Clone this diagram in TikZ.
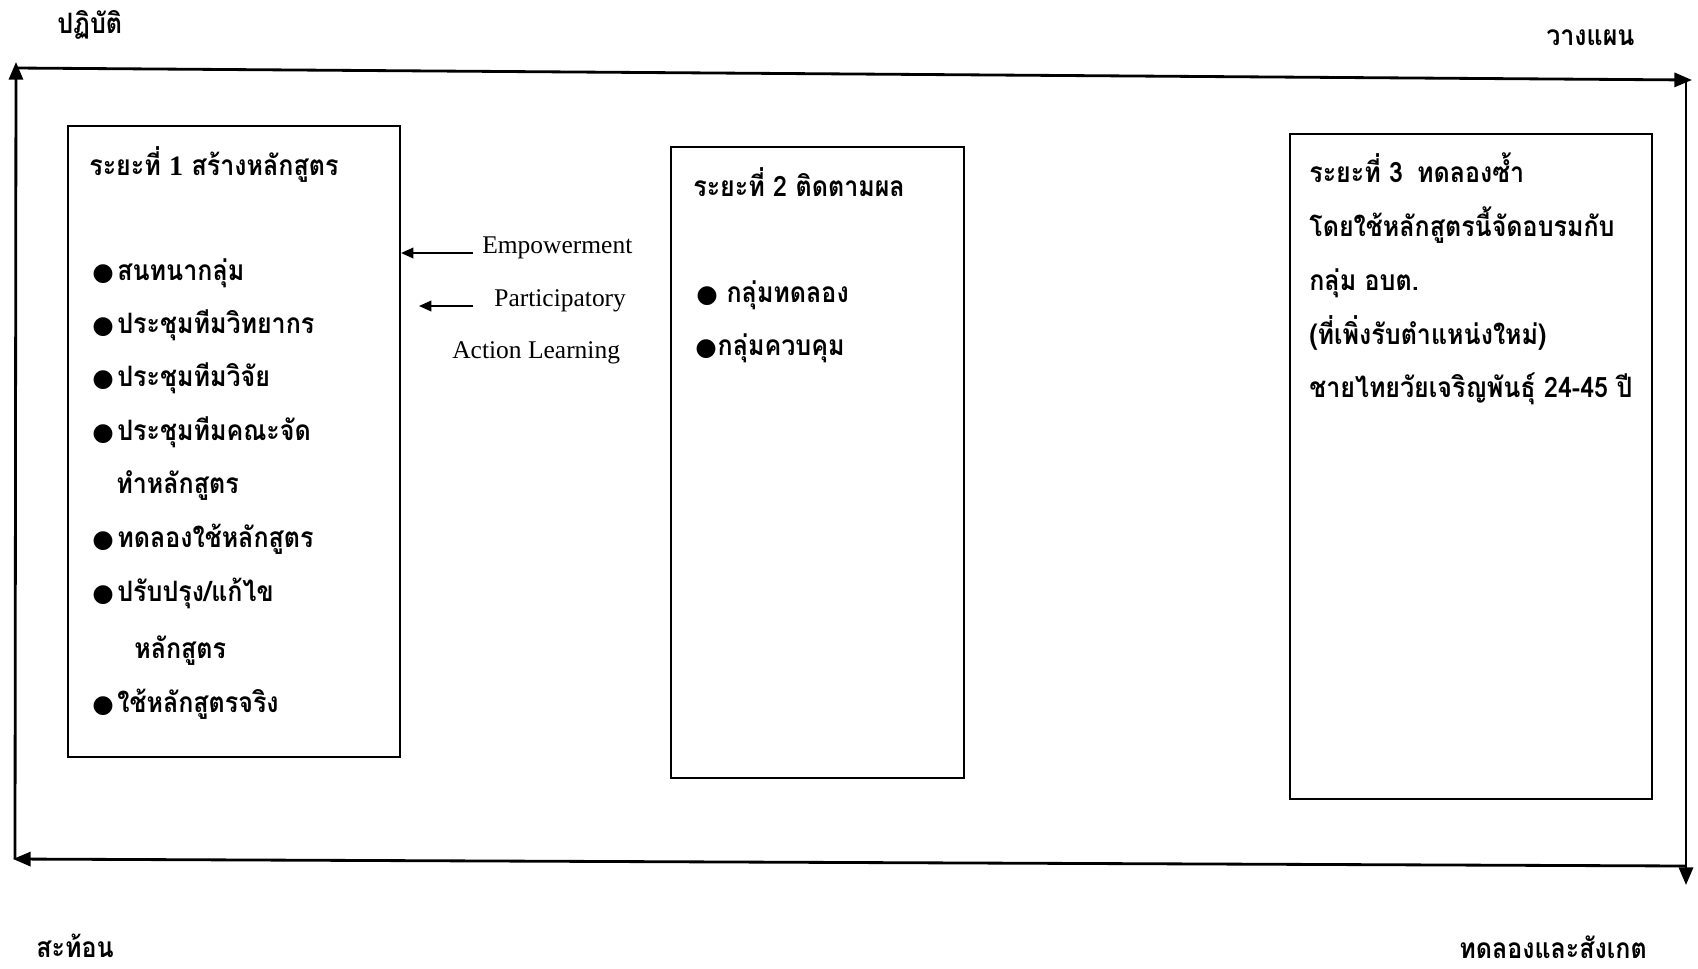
\documentclass[tikz,border=0pt]{standalone}
\usepackage{fontspec}
\setmainfont{Liberation Serif}
\newfontfamily\thai[Script=Thai, FakeStretch=0.89]{Loma}
\newfontfamily\dv{DejaVu Sans}
\usetikzlibrary{arrows.meta,fit}
\newcommand{\bul}{{\dv\fontsize{14}{14}\selectfont ●}}
\begin{document}
\begin{tikzpicture}[x=0.02cm,y=-0.02cm,
  lbl/.style={anchor=base west, inner sep=0pt, font=\thai\bfseries\fontsize{16}{19}\selectfont},
  eng/.style={anchor=base west, inner sep=0pt, font=\fontsize{14.5}{17}\selectfont},
  boxst/.style={draw, line width=1.2pt, inner sep=0pt},
  looparr/.style={line width=1.6pt, -{Triangle[length=10pt,width=8pt]}},
  thinarr/.style={line width=1.1pt, -{Triangle[length=7pt,width=6pt]}}]
\useasboundingbox (0,0) rectangle (1698,968);

% outer cycle corners
\coordinate (cBL) at (15,859);
\coordinate (cTLtip) at (16,62);
\coordinate (cTL) at (16,68);
\coordinate (cTRtip) at (1692,80);
\coordinate (cTR) at (1686,80);
\coordinate (cBRtip) at (1686,885);
\coordinate (cBR) at (1686,866);
\coordinate (cBLtip) at (13,859);

\draw[looparr] (cBL) -- (cTLtip);
\draw[looparr] (cTL) -- (cTRtip);
\draw[looparr] (cTR) -- (cBRtip);
\draw[looparr] (cBR) -- (cBLtip);

% corner labels
\node[lbl] (plan) at (1546,45) {วางแผน};
\node[lbl] (act) at (57,33) {ปฏิบัติ};
\node[lbl] (refl) at (36,957) {สะท้อน};
\node[lbl] (obs) at (1459,958) {ทดลองและสังเกต};

% boxes
\node[boxst, fit={(68,126) (400,757)}] (box1) {};
\node[boxst, fit={(671,147) (964,778)}] (box2) {};
\node[boxst, fit={(1290,134) (1652,799)}] (box3) {};

% box 1 text
\node[lbl] (t1) at (89,175) {ระยะที่ {\rmfamily 1} สร้างหลักสูตร};
\node[lbl] (a1) at (92,280) {\bul\hspace{2pt}สนทนากลุ่ม};
\node[lbl] (a2) at (92,333) {\bul\hspace{2pt}ประชุมทีมวิทยากร};
\node[lbl] (a3) at (92,386) {\bul\hspace{2pt}ประชุมทีมวิจัย};
\node[lbl] (a4) at (92,440) {\bul\hspace{2pt}ประชุมทีมคณะจัด};
\node[lbl] (a4b) at (116,493) {ทำหลักสูตร};
\node[lbl] (a5) at (92,547) {\bul\hspace{2pt}ทดลองใช้หลักสูตร};
\node[lbl] (a6) at (92,601) {\bul\hspace{2pt}ปรับปรุง/แก้ไข};
\node[lbl] (a6b) at (134,658) {หลักสูตร};
\node[lbl] (a7) at (92,712) {\bul\hspace{2pt}ใช้หลักสูตรจริง};

% middle labels
\node[eng] (emp) at (482,253) {Empowerment};
\node[eng] (par) at (494,306) {Participatory};
\node[eng] (acl) at (452,358) {Action Learning};
\coordinate (empS) at (473,253);
\coordinate (parS) at (473,306);
\coordinate (parE) at (419,306);
\draw[thinarr] (empS) -- (box1.east |- empS);
\draw[thinarr] (parS) -- (parE);

% box 2 text
\node[lbl] (t2) at (693,196) {ระยะที่ 2 ติดตามผล};
\node[lbl] (b1) at (696,302) {\bul\hspace{5pt}กลุ่มทดลอง};
\node[lbl] (b2) at (695,355) {\bul\hspace{0.5pt}กลุ่มควบคุม};

% box 3 text
\node[lbl] (t3) at (1309,182) {ระยะที่ 3\hspace{8pt}ทดลองซ้ำ};
\node[lbl] (c1) at (1309,236) {โดยใช้หลักสูตรนี้จัดอบรมกับ};
\node[lbl] (c2) at (1309,290) {กลุ่ม อบต.};
\node[lbl] (c3) at (1309,344) {(ที่เพิ่งรับตำแหน่งใหม่)};
\node[lbl] (c4) at (1309,397) {ชายไทยวัยเจริญพันธุ์ 24-45 ปี};
\end{tikzpicture}
\end{document}
